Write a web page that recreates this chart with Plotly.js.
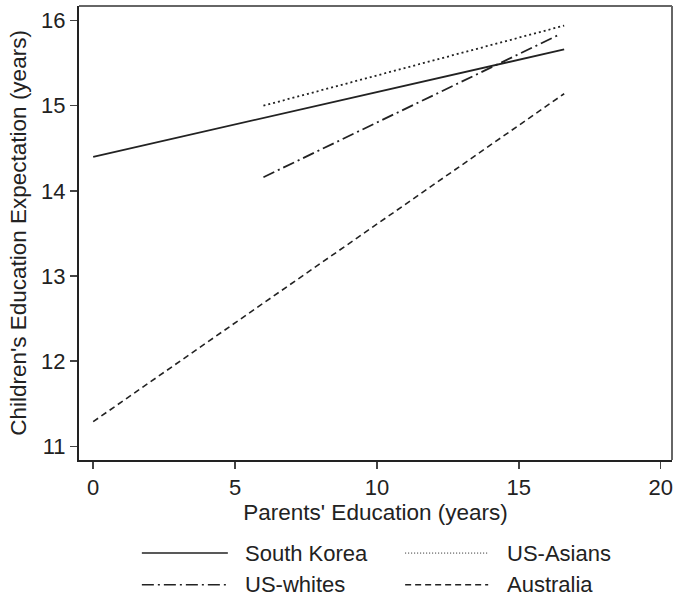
<!DOCTYPE html>
<html>
<head>
<meta charset="utf-8">
<script src="https://cdn.plot.ly/plotly-3.0.1.min.js"></script>
<style>html,body{margin:0;padding:0;background:#fff;}</style>
</head>
<body>
<div id="chart" style="width:676px;height:600px;"></div>
<script>
// Data
const seriesNames = ["South Korea", "US-Asians", "US-whites", "Australia"];
const southKoreaX = [0, 16.6];
const southKoreaY = [14.40, 15.66];
const usAsiansX = [6, 16.6];
const usAsiansY = [15.00, 15.94];
const usWhitesX = [6, 16.4];
const usWhitesY = [14.16, 15.83];
const australiaX = [0, 16.6];
const australiaY = [11.29, 15.14];
const xTicks = [0, 5, 10, 15, 20];
const yTicks = [11, 12, 13, 14, 15, 16];

const ink = "#222222";
const dashes = ["solid", "2px,3px", "12px,4px,2px,4px", "6px,4px"];
const widths = [1.8, 1.8, 1.8, 1.6];
const xs = [southKoreaX, usAsiansX, usWhitesX, australiaX];
const ys = [southKoreaY, usAsiansY, usWhitesY, australiaY];

const traces = seriesNames.map((n, i) => ({
  type: "scatter", mode: "lines", name: n,
  x: xs[i], y: ys[i],
  line: {color: ink, width: widths[i], dash: dashes[i]},
  showlegend: false
}));

// Custom legend (2 columns)
const legPos = [
  {x0: 0.106, x1: 0.251, tx: 0.2766, y: -0.205},
  {x0: 0.550, x1: 0.690, tx: 0.718, y: -0.205},
  {x0: 0.106, x1: 0.251, tx: 0.2766, y: -0.275},
  {x0: 0.550, x1: 0.690, tx: 0.718, y: -0.275}
];
const legDashes = ["solid", "1px,2px", "12px,4px,2px,4px", "6px,4px"];
const shapes = [
  {type: "line", xref: "paper", yref: "paper", x0: 0, x1: 1, y0: 1, y1: 1, line: {color: "#666", width: 2}},
  {type: "line", xref: "paper", yref: "paper", x0: 1, x1: 1, y0: 0, y1: 1, line: {color: "#666", width: 2}}
];
const annotations = [];
seriesNames.forEach((n, i) => {
  const p = legPos[i];
  shapes.push({type: "line", xref: "paper", yref: "paper", x0: p.x0, x1: p.x1, y0: p.y, y1: p.y,
    line: {color: ink, width: i === 1 ? 1 : 1.5, dash: legDashes[i]}});
  annotations.push({xref: "paper", yref: "paper", x: p.tx, y: p.y, text: n, showarrow: false,
    xanchor: "left", yanchor: "middle", font: {family: "Liberation Sans, Arial, sans-serif", size: 22, color: ink}});
});

const layout = {
  width: 676, height: 600,
  margin: {l: 79, r: 4, t: 6, b: 140},
  paper_bgcolor: "#fff", plot_bgcolor: "#fff",
  font: {family: "Liberation Sans, Arial, sans-serif", color: ink},
  showlegend: false,
  xaxis: {
    range: [-0.5, 20.4], tickvals: xTicks, ticktext: xTicks.map(String),
    showgrid: false, zeroline: false, showline: true, linecolor: ink, linewidth: 2,
    ticks: "outside", ticklen: 7, tickwidth: 1.5, tickcolor: "#444",
    tickfont: {size: 22, color: ink},
    title: {text: "Parents' Education (years)", font: {size: 22.5, color: ink}, standoff: 0}
  },
  yaxis: {
    range: [10.84, 16.17], tickvals: yTicks, ticktext: yTicks.map(String),
    showgrid: false, zeroline: false, showline: true, linecolor: ink, linewidth: 2,
    ticks: "outside", ticklen: 7, tickwidth: 1.5, tickcolor: "#444",
    tickfont: {size: 22, color: ink},
    title: {text: "Children's Education Expectation (years)", font: {size: 22.5, color: ink}, standoff: 8}
  },
  shapes: shapes,
  annotations: annotations
};

Plotly.newPlot("chart", traces, layout, {displayModeBar: false, staticPlot: true});
</script>
</body>
</html>
